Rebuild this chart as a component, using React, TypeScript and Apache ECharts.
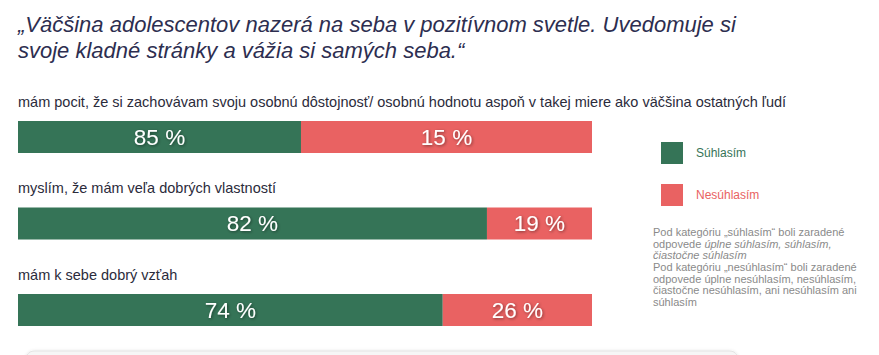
import React, { useEffect, useRef } from "react";
import * as echarts from "echarts";

const titleLines = [
  "„Väčšina adolescentov nazerá na seba v pozitívnom svetle. Uvedomuje si",
  "svoje kladné stránky a vážia si samých seba.“",
];
const statements = [
  "mám pocit, že si zachovávam svoju osobnú dôstojnosť/ osobnú hodnotu aspoň v takej miere ako väčšina ostatných ľudí",
  "myslím, že mám veľa dobrých vlastností",
  "mám k sebe dobrý vzťah",
];
const seriesNames = ["Súhlasím", "Nesúhlasím"];
// percentages printed on the bars
const agreeLabels = [85, 82, 74];
const disagreeLabels = [15, 19, 26];
// segment lengths as drawn in the picture (share of the full bar width)
const agreeDrawn = [49.3, 81.7, 74.0];
const disagreeDrawn = [50.7, 18.3, 26.0];
const noteLines = [
  "Pod kategóriu „súhlasím“ boli zaradené",
  "odpovede {i|úplne súhlasím, súhlasím,}",
  "{i|čiastočne súhlasím}",
  "Pod kategóriu „nesúhlasím“ boli zaradené",
  "odpovede úplne nesúhlasím, nesúhlasím,",
  "čiastočne nesúhlasím, ani nesúhlasím ani",
  "súhlasím",
];

const GREEN = "#357457";
const RED = "#e96262";
const FONT = "'Liberation Sans', Arial, sans-serif";

export default function App() {
  const ref = useRef<HTMLDivElement>(null);
  useEffect(() => {
    document.body.style.margin = "0";
    const chart = echarts.init(ref.current!, null, { renderer: "svg" });
    const barLabel = (labels: number[]) => ({
      show: true,
      position: "inside",
      formatter: (p: any) => `${labels[p.dataIndex]} %`,
      color: "#ffffff",
      fontSize: 22.5,
      fontFamily: FONT,
      textShadowColor: "rgba(0,0,0,0.45)",
      textShadowBlur: 3,
      textShadowOffsetX: 1,
      textShadowOffsetY: 1,
    });
    chart.setOption({
      animation: false,
      backgroundColor: "#ffffff",
      title: {
        text: titleLines.join("\n"),
        left: 18,
        top: 11,
        padding: 0,
        textStyle: {
          fontFamily: FONT,
          fontStyle: "italic",
          fontWeight: "normal",
          fontSize: 22,
          lineHeight: 26,
          color: "#2d2e50",
        },
      },
      legend: {
        orient: "vertical",
        left: 661,
        top: 142,
        padding: 0,
        itemWidth: 22,
        itemHeight: 22,
        itemGap: 20,
        icon: "rect",
        selectedMode: false,
        data: [
          { name: seriesNames[0], textStyle: { color: GREEN } },
          { name: seriesNames[1], textStyle: { color: RED } },
        ],
        textStyle: { fontFamily: FONT, fontSize: 12, padding: [0, 0, 0, 8] },
      },
      grid: { left: 18, width: 574, top: 93.75, height: 259.5, containLabel: false },
      xAxis: { type: "value", min: 0, max: 100, show: false },
      yAxis: {
        type: "category",
        inverse: true,
        data: statements,
        axisLine: { show: false },
        axisTick: { show: false },
        splitLine: { show: false },
        axisLabel: {
          inside: true,
          margin: 0,
          align: "left",
          verticalAlign: "bottom",
          padding: [0, 0, 28, 0],
          fontFamily: FONT,
          fontSize: 14.5,
          color: "#2b2b3b",
        },
        z: 10,
      },
      series: [
        {
          name: seriesNames[0],
          type: "bar",
          stack: "a",
          barWidth: 32,
          data: agreeDrawn,
          itemStyle: { color: GREEN },
          label: barLabel(agreeLabels),
        },
        {
          name: seriesNames[1],
          type: "bar",
          stack: "a",
          barWidth: 32,
          data: disagreeDrawn,
          itemStyle: { color: RED },
          label: barLabel(disagreeLabels),
        },
      ],
      graphic: [
        {
          type: "text",
          left: 653,
          top: 226,
          style: {
            text: noteLines.join("\n"),
            fontFamily: FONT,
            fontSize: 11,
            lineHeight: 11.7,
            fill: "#8a8a8a",
            rich: {
              i: { fontStyle: "italic", fontFamily: FONT, fontSize: 11, lineHeight: 11.7, fill: "#8a8a8a" },
            },
          },
        },
        {
          type: "rect",
          shape: { x: 26, y: 351, width: 712, height: 20, r: 8 },
          style: {
            fill: "#f6f6f6",
            stroke: "#e4e4e4",
            lineWidth: 1,
            shadowColor: "rgba(0,0,0,0.1)",
            shadowBlur: 3,
          },
        },
      ],
    });
    return () => chart.dispose();
  }, []);
  return <div ref={ref} style={{ width: 879, height: 355 }} />;
}
